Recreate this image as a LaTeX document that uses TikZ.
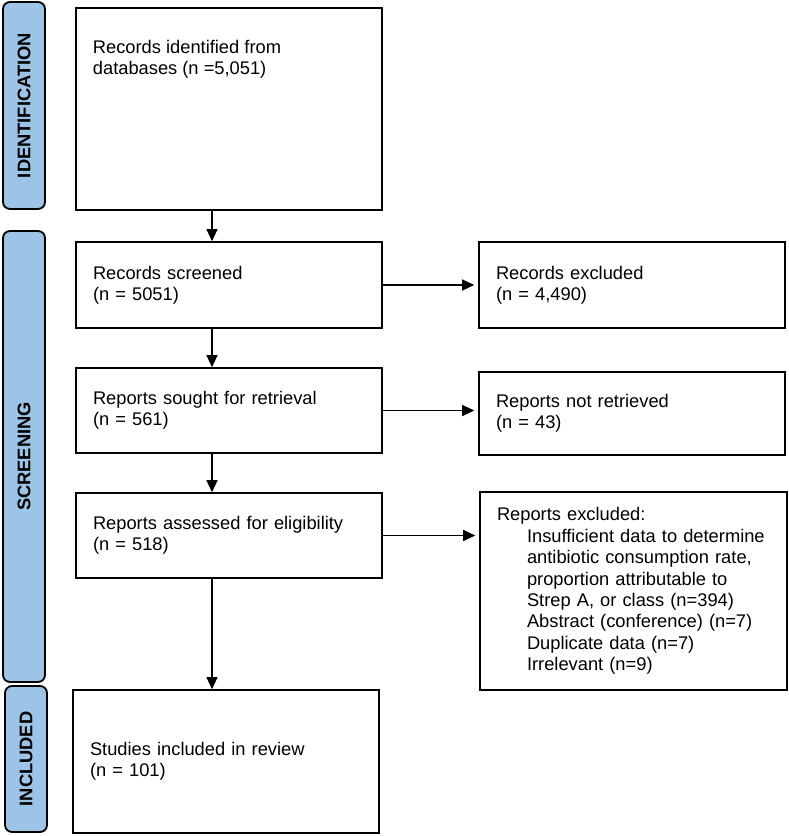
\documentclass[tikz,border=0pt]{standalone}
\usepackage{fontspec}
\setmainfont{Liberation Sans}
\usepackage{tikz}
\usetikzlibrary{arrows.meta}
\definecolor{laneblue}{RGB}{157,195,230}

\begin{document}
\begin{tikzpicture}[x=1pt,y=-1pt,
  lane/.style={draw,line width=1.8pt,rounded corners=7pt,fill=laneblue,rotate=90,inner sep=0pt,
    font=\fontsize{18.3}{22}\selectfont\bfseries},
  stage/.style={draw,line width=1.6pt,inner xsep=17pt,inner ysep=0pt,align=left,text width=272pt,
    font=\fontsize{18.3}{21.4}\selectfont},
  flow/.style={line width=1.2pt,-{Triangle[length=12pt,width=11pt]}}]

\useasboundingbox (0,0) rectangle (789,836);

% Stage labels down the left side.
\node[lane,minimum width=207pt,minimum height=42pt] (idlane) at (24,105.5) {IDENTIFICATION};
\node[lane,minimum width=451pt,minimum height=42pt] (sclane) at (24,456.5) {SCREENING};
\node[lane,minimum width=146pt,minimum height=42pt] (inlane) at (26,759) {INCLUDED};

% Main column of boxes.
\node[stage,minimum height=202pt] (ident) at (229,109) {};
\node[anchor=north west,inner sep=0pt,align=left,font=\fontsize{18.3}{21.4}\selectfont] (identtxt)
  at (92.7,39.7) {Records identified from\\databases (n =5,051)};
\node[stage,minimum height=86pt] (screen) at (229,285) {Records screened\\(n = 5051)};
\node[stage,minimum height=85pt] (sought) at (229,410.5) {Reports sought for retrieval\\(n = 561)};
\node[stage,minimum height=85pt] (assess) at (229,535.5) {Reports assessed for eligibility\\(n = 518)};
\node[stage,minimum height=143pt] (incl) at (226,761.5) {Studies included in review\\(n = 101)};

% Exclusion boxes on the right.
\node[stage,minimum height=86pt] (excl) at (632,285) {Records excluded\\(n = 4,490)};
\node[stage,minimum height=83pt] (notret) at (632,413.5) {Reports not retrieved\\(n = 43)};
\node[stage,text width=273pt,minimum height=198pt] (rexcl) at (633.5,591) {Reports excluded:\\
  \hspace*{30pt}Insufficient data to determine\\
  \hspace*{30pt}antibiotic consumption rate,\\
  \hspace*{30pt}proportion attributable to\\
  \hspace*{30pt}Strep A, or class (n=394)\\
  \hspace*{30pt}Abstract (conference) (n=7)\\
  \hspace*{30pt}Duplicate data (n=7)\\
  \hspace*{30pt}Irrelevant (n=9)};

% Arrows down the spine and out to the right.
\coordinate (spine) at (212,0);
\draw[flow] (ident.south -| spine) -- (screen.north -| spine);
\draw[flow] (screen.south -| spine) -- (sought.north -| spine);
\draw[flow] (sought.south -| spine) -- (assess.north -| spine);
\draw[flow] (assess.south -| spine) -- (incl.north -| spine);
\draw[flow,shorten >=4pt] (screen.east) -- (screen.east -| excl.west);
\draw[flow,shorten >=4pt] (sought.east) -- (sought.east -| notret.west);
\draw[flow,shorten >=4pt] (assess.east) -- (assess.east -| rexcl.west);

\end{tikzpicture}
\end{document}
